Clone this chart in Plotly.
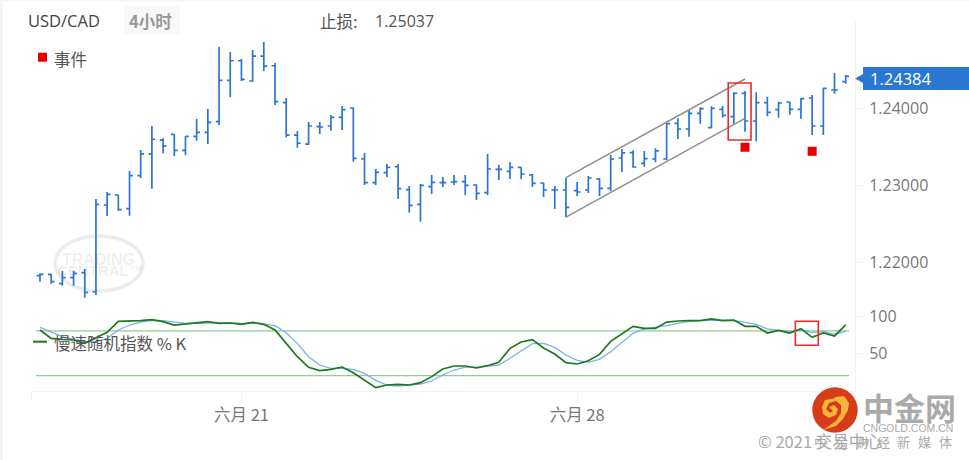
import plotly.graph_objects as go

W, H = 969, 460
BAR_INDEX = list(range(73))
OPEN = [1.21822,1.21840,1.21718,1.21796,1.21861,1.21614,1.22740,1.22870,1.22692,1.23121,1.23403,1.23584,1.23658,1.23451,1.23632,1.23684,1.23822,1.24360,1.24614,1.24351,1.24675,1.24549,1.24069,1.23649,1.23532,1.23757,1.23766,1.23879,1.24000,1.23338,1.23030,1.23160,1.23238,1.22939,1.22749,1.22978,1.23030,1.23039,1.23043,1.23000,1.22900,1.23204,1.23178,1.23230,1.23130,1.23026,1.22935,1.22935,1.22926,1.22935,1.23078,1.22957,1.23351,1.23420,1.23282,1.23338,1.23338,1.23801,1.23727,1.23931,1.23744,1.23983,1.23887,1.24191,1.23831,1.24069,1.23978,1.24078,1.23983,1.24130,1.23766,1.24234,1.24342]
HIGH = [1.21853,1.21844,1.21883,1.21883,1.21909,1.22818,1.22909,1.22870,1.23182,1.23455,1.23766,1.23606,1.23658,1.23632,1.23857,1.23987,1.24792,1.24727,1.24636,1.24753,1.24857,1.24584,1.24130,1.23701,1.23818,1.23818,1.23909,1.24026,1.24009,1.23416,1.23208,1.23273,1.23273,1.22987,1.23013,1.23130,1.23104,1.23130,1.23130,1.23009,1.23403,1.23260,1.23299,1.23230,1.23143,1.23030,1.22987,1.23091,1.23039,1.23117,1.23091,1.23390,1.23468,1.23451,1.23442,1.23477,1.23805,1.23866,1.23974,1.24009,1.24022,1.24026,1.24204,1.24221,1.24204,1.24147,1.24082,1.24082,1.24126,1.24169,1.24264,1.24455,1.24428]
LOW = [1.21744,1.21718,1.21692,1.21692,1.21536,1.21571,1.22597,1.22666,1.22601,1.23091,1.22952,1.23412,1.23377,1.23390,1.23575,1.23532,1.23779,1.24143,1.24351,1.24342,1.24481,1.24039,1.23619,1.23484,1.23519,1.23662,1.23705,1.23714,1.23303,1.23000,1.23000,1.23104,1.22818,1.22640,1.22523,1.22883,1.22974,1.23000,1.22870,1.22805,1.22870,1.23065,1.23078,1.23078,1.22974,1.22844,1.22688,1.22581,1.22857,1.22896,1.22857,1.22922,1.23169,1.23225,1.23238,1.23295,1.23321,1.23597,1.23627,1.23796,1.23736,1.23874,1.23792,1.23692,1.23568,1.23892,1.23874,1.23913,1.23861,1.23649,1.23649,1.24186,1.24316]
CLOSE = [1.21840,1.21744,1.21796,1.21853,1.21606,1.22749,1.22879,1.22679,1.23121,1.23403,1.23594,1.23506,1.23451,1.23632,1.23684,1.23814,1.24360,1.24614,1.24373,1.24675,1.24545,1.24082,1.23649,1.23542,1.23766,1.23753,1.23879,1.23978,1.23347,1.23030,1.23165,1.23230,1.22952,1.22736,1.22996,1.23035,1.23030,1.23043,1.22996,1.22892,1.23208,1.23204,1.23230,1.23143,1.23022,1.22935,1.22935,1.22710,1.22909,1.23091,1.22957,1.23338,1.23416,1.23234,1.23342,1.23442,1.23796,1.23727,1.23931,1.23991,1.23996,1.23905,1.24191,1.23831,1.24069,1.23944,1.24065,1.23983,1.24121,1.23766,1.24256,1.24234,1.24410]
STOCH_K = [81.2,70,68.7,67.8,63.3,70.9,78.1,92.8,92.8,93.7,95.1,92.4,87.9,89.3,90.2,92.4,90.2,90.6,88.8,91.5,88.8,81.2,63.3,45.4,31.1,26.6,28.4,31.5,23.9,13.6,3.8,7.4,8.3,7.4,10.5,18.6,28.9,32.9,32.9,30.2,33.3,37.8,56.6,65.1,68.2,57,49,37.4,35.6,40,48.5,66,75.8,86.1,83.4,83.4,91.9,93.3,93.7,93.7,96,93.7,94.6,86.1,86.1,77.2,80.8,77.2,83,71.4,77.2,73.2,88]
STOCH_D = [84.8,78.1,72.3,69.1,65.5,65.5,70,81.2,87.9,91.9,94.2,93.7,91.5,90.2,90.2,90.6,91.5,91,90.2,90.6,89.3,87,77.6,63.3,45.4,34.2,29.8,29.8,28.4,23,13.6,7.4,6,6.9,8.7,12.8,20.8,27.5,31.5,31.5,32.9,34.2,43.2,53.5,62.9,63.3,57.9,47.6,40.5,37.8,41.8,52.1,64.7,76.7,82.6,84.3,87,90.2,92.8,93.7,94.6,94.6,94.2,91.5,88.8,82.6,80.8,79,80.8,78.1,79,75.4,79.4]
EVENT_INDEX = [63, 69]
EVENT_PRICE = [1.2349, 1.23438]
PRICE_TICKS = [1.22, 1.23, 1.24]
OSC_TICKS = [50, 100]
DATE_TICK_INDEX = [18, 48]
DATE_TICK_LABELS = ["六月 21", "六月 28"]
LAST_PRICE = 1.24384
STOP_LOSS = "1.25037"
SYMBOL = "USD/CAD"
PERIOD = "4小时"
CHANNEL_X = [47, 63]
CHANNEL_UPPER = [1.23095, 1.24377]
CHANNEL_LOWER = [1.22584, 1.23866]
BOX1 = dict(x0=61.5, x1=63.54, y0=1.23584, y1=1.24325)
BOX2 = dict(x0=67.5, x1=69.55, y0=60.7, y1=92.9)
OSC_LEVELS = [80, 20]

BLUE = "#2a76d3"
RED = "#e60000"
FONT = "Open Sans, Noto Sans CJK SC, sans-serif"
CJK = "Noto Sans CJK SC, Open Sans, sans-serif"
AXIS = "#f3f3f3"


def px(x):
    return x / W


def py(y):
    return 1 - y / H


fig = go.Figure()
fig.add_trace(go.Ohlc(x=BAR_INDEX, open=OPEN, high=HIGH, low=LOW, close=CLOSE, xaxis="x", yaxis="y",
                      increasing=dict(line=dict(color=BLUE, width=1.7)),
                      decreasing=dict(line=dict(color=BLUE, width=1.7)),
                      tickwidth=0.3, showlegend=False, hoverinfo="skip"))
fig.add_trace(go.Scatter(x=EVENT_INDEX, y=EVENT_PRICE, mode="markers", xaxis="x", yaxis="y",
                         marker=dict(symbol="square", size=9, color=RED), showlegend=False, hoverinfo="skip"))
for level in OSC_LEVELS:
    fig.add_trace(go.Scatter(x=[-0.36, 72.3], y=[level, level], mode="lines", xaxis="x", yaxis="y2",
                             line=dict(color="#98c898", width=1.2), showlegend=False, hoverinfo="skip"))
fig.add_trace(go.Scatter(x=BAR_INDEX, y=STOCH_D, mode="lines", xaxis="x", yaxis="y2",
                         line=dict(color="#7db0ea", width=1.3), showlegend=False, hoverinfo="skip"))
fig.add_trace(go.Scatter(x=BAR_INDEX, y=STOCH_K, mode="lines", xaxis="x", yaxis="y2",
                         line=dict(color="#1b7a1b", width=1.7), showlegend=False, hoverinfo="skip"))

shapes = []
for ys in (CHANNEL_UPPER, CHANNEL_LOWER):
    shapes.append(dict(type="line", xref="x", yref="y", x0=CHANNEL_X[0], x1=CHANNEL_X[1], y0=ys[0], y1=ys[1],
                       line=dict(color="#8f8f8f", width=1.5)))
shapes.append(dict(type="rect", xref="x", yref="y", line=dict(color="#f02a2a", width=1.6), **BOX1))
shapes.append(dict(type="rect", xref="x", yref="y2", line=dict(color="#f02a2a", width=1.6), **BOX2))


def paper_rect(x0, y0, x1, y1, fill, layer="above"):
    shapes.append(dict(type="rect", xref="paper", yref="paper", x0=px(x0), x1=px(x1), y0=py(y1), y1=py(y0),
                       fillcolor=fill, line=dict(width=0), layer=layer))


def paper_path(points, fill):
    d = "M" + " L".join(f"{px(a):.5f},{py(b):.5f}" for a, b in points) + " Z"
    shapes.append(dict(type="path", xref="paper", yref="paper", path=d, fillcolor=fill, line=dict(width=0)))


# page edge, period chip, legend marks, price flag
paper_rect(0, 0, 3, H, "#f4f4f4", "below")
paper_rect(0, 0, W, 1.5, "#f4f4f4", "below")
shapes.append(dict(type="rect", xref="paper", yref="paper", x0=px(124), x1=px(180), y0=py(34), y1=py(6),
                   fillcolor="#f8f8f8", line=dict(width=0), layer="below"))
paper_rect(38, 52.7, 47, 61.7, RED)
paper_rect(33, 340.7, 47, 342.7, "#1b7a1b")
paper_rect(863, 67, 969, 90, BLUE)
paper_rect(31, 391, 32, 400, AXIS, "below")
shapes.append(dict(type="path", xref="paper", yref="y",
                   path=f"M{px(855)},{LAST_PRICE} L{px(864)},{LAST_PRICE + 0.00065} L{px(864)},{LAST_PRICE - 0.00065} Z",
                   fillcolor=BLUE, line=dict(width=0)))

# faint Trading Central mark
shapes.append(dict(type="circle", xref="paper", yref="paper", x0=px(55), x1=px(143), y0=py(291), y1=py(236),
                   line=dict(color="#ececec", width=3.5), layer="below"))

# site logo
shapes.append(dict(type="circle", xref="paper", yref="paper", x0=px(812.3), x1=px(857.7), y0=py(432.7), y1=py(387.3),
                   fillcolor="#d63c18", line=dict(width=0)))
paper_path([(823, 430), (836, 426), (843, 419), (848, 410), (849, 403), (844, 396), (836, 397), (832, 399),
            (825, 400), (822, 407), (823, 414), (829, 418), (836, 415), (838, 409), (834, 405), (829, 407),
            (833, 411), (830, 413), (826, 409), (829, 403), (836, 401), (841, 405), (841, 413), (836, 421)],
           "#f6b53a")

ann = []


def label(x, y, text, size=15, color="#555555", anchor="left", family=CJK, bold=False):
    ann.append(dict(x=px(x), y=py(y), xref="paper", yref="paper", text=f"<b>{text}</b>" if bold else text,
                    showarrow=False, xanchor=anchor, yanchor="middle", borderpad=0, borderwidth=0,
                    font=dict(size=size, color=color, family=family)))


label(28, 21, SYMBOL, 16.5, "#444444", family=FONT)
label(129, 21, PERIOD, 16.5, "#999999", bold=True)
label(320, 21, "止损:", 16.5, "#555555")
label(375, 21, STOP_LOSS, 16, "#555555", family=FONT)
label(54, 59, "事件", 16.5, "#555555")
label(54, 343, "慢速随机指数 % K", 16.5, "#555555")
label(870, 78.5, f"{LAST_PRICE:.5f}", 16.5, "#ffffff", family=FONT)
label(98, 259, "TRADING", 16, "rgba(0,0,0,0.08)", "center", "Liberation Sans", True)
label(100, 270, "CENTRAL™", 15, "rgba(0,0,0,0.08)", "center", "Liberation Sans", True)
label(863, 406.5, "中金网", 31, "#aaaaaa", bold=True)
label(863, 428, "CNGOLD.COM.CN", 10.5, "#aaaaaa", family="Liberation Sans")
label(758, 441, "© 2021 交易中心", 16.5, "#aaaaaa")
for cx, ch in zip([820, 841, 862, 883, 903, 924, 945], "中金财经新媒体"):
    label(cx, 441, ch, 13, "#aaaaaa", "center")

layout_axis = dict(showgrid=False, zeroline=False, side="right", showline=True, linecolor=AXIS, linewidth=1,
                   ticks="outside", ticklen=8, tickcolor=AXIS, tickfont=dict(size=16, color="#777777", family=FONT),
                   ticklabelstandoff=2, fixedrange=True)

fig.update_layout(
    width=W, height=H, margin=dict(l=0, r=0, t=0, b=0), paper_bgcolor="white", plot_bgcolor="white",
    showlegend=False, shapes=shapes, annotations=ann, font=dict(family=FONT),
    xaxis=dict(domain=[px(31), px(855)], range=[-0.804, 72.83], anchor="y2", showgrid=False, zeroline=False,
               showline=True, linecolor=AXIS, linewidth=1, ticks="outside", ticklen=9, tickcolor=AXIS,
               tickmode="array", tickvals=DATE_TICK_INDEX, ticktext=DATE_TICK_LABELS,
               tickfont=dict(size=16.5, color="#777777", family=CJK), rangeslider=dict(visible=False),
               ticklabelstandoff=0, fixedrange=True),
    yaxis=dict(domain=[py(305), py(20)], range=[1.214416, 1.251429], anchor="x", tickmode="array",
               tickvals=PRICE_TICKS, tickformat=".5f", **layout_axis),
    yaxis2=dict(domain=[py(391), py(305)], range=[-0.67, 114.77], anchor="x", tickmode="array",
                tickvals=OSC_TICKS, ticktext=[str(t) for t in OSC_TICKS], **layout_axis),
)

fig.write_html("out.html", config=dict(displayModeBar=False),
               post_script="document.body.style.margin='0';document.body.style.overflow='hidden';")
